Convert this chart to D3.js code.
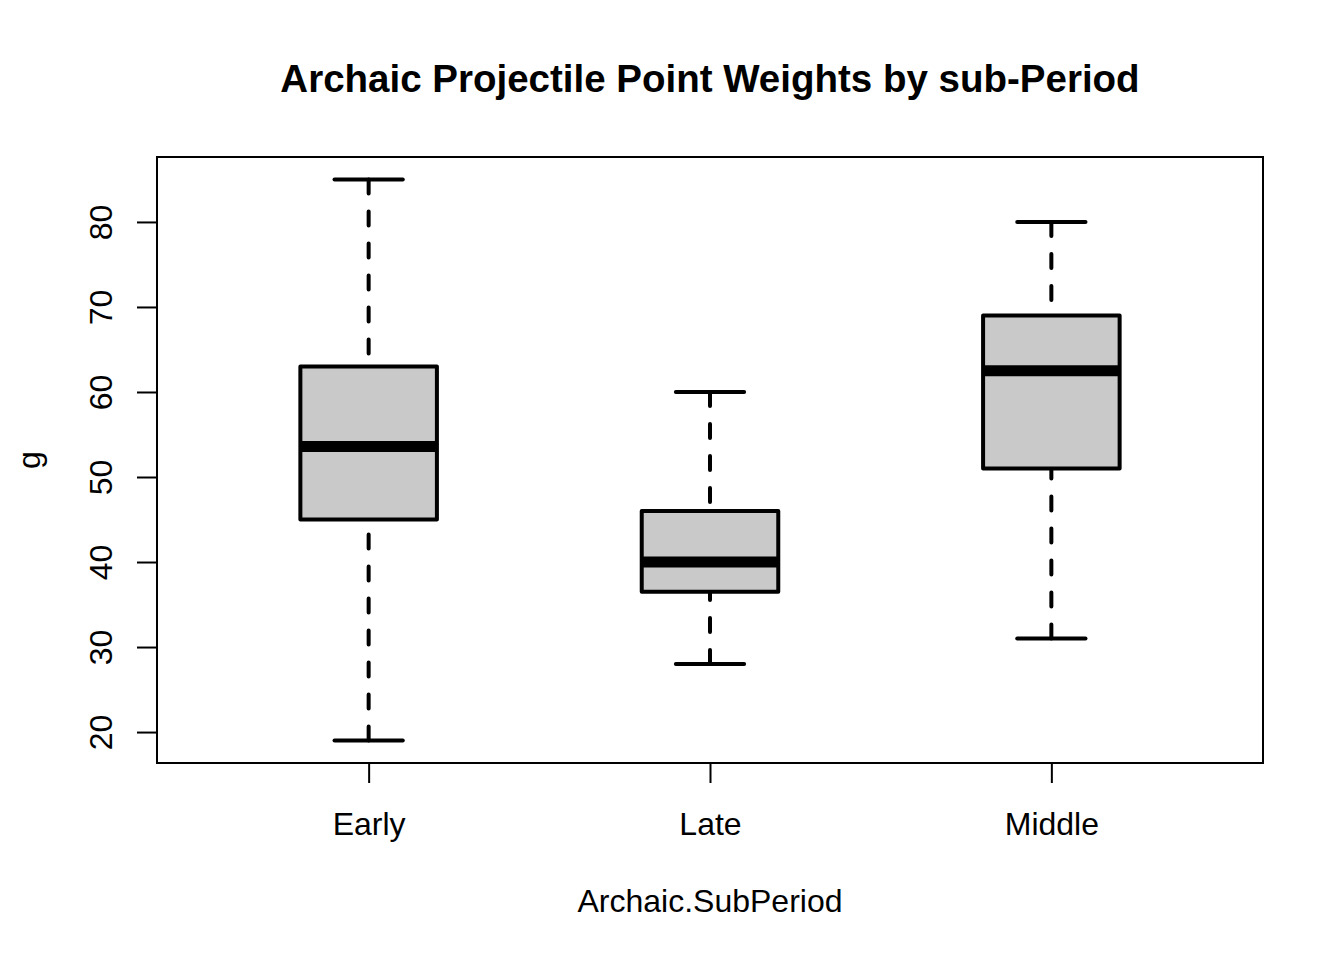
<!DOCTYPE html>
<html>
<head>
<meta charset="utf-8">
<script src="https://d3js.org/d3.v7.min.js"></script>
<style>
  body { margin: 0; background: #fff; }
  svg { font-family: "Liberation Sans", Arial, Helvetica, sans-serif; }
</style>
</head>
<body>
<svg width="1344" height="960"></svg>
<script>
// box stats
var periods = ["Early", "Late", "Middle"];
var lowWhisker = [19, 28, 31];
var lowerQuartile = [45, 36.5, 51];
var medians = [53.6, 40, 62.5];
var upperQuartile = [63, 46, 69];
var highWhisker = [85, 60, 80];
var yTicks = [20, 30, 40, 50, 60, 70, 80];

var svg = d3.select("svg"),
    plotLeft = 157, plotRight = 1263, plotTop = 157, plotBottom = 763;

var data = periods.map(function(p, i) {
  return { name: p, lo: lowWhisker[i], q1: lowerQuartile[i], med: medians[i],
           q3: upperQuartile[i], hi: highWhisker[i], pos: i + 1 };
});

// R style 4% padding on both axes
var yMin = d3.min(lowWhisker), yMax = d3.max(highWhisker), pad = (yMax - yMin) * 0.04;
var yScale = d3.scaleLinear().domain([yMin - pad, yMax + pad]).range([plotBottom, plotTop]);
var xPad = periods.length * 0.04;
var xScale = d3.scaleLinear().domain([0.5 - xPad, periods.length + 0.5 + xPad]).range([plotLeft, plotRight]);

var half = xScale(1.2) - xScale(1);
var capHalf = half / 2;

// title
svg.append("text")
  .attr("x", (plotLeft + plotRight) / 2).attr("y", 92)
  .attr("text-anchor", "middle")
  .style("font-weight", "bold").style("font-size", "38.5px")
  .text("Archaic Projectile Point Weights by sub-Period");

// frame
svg.append("rect")
  .attr("x", plotLeft).attr("y", plotTop)
  .attr("width", plotRight - plotLeft).attr("height", plotBottom - plotTop)
  .attr("fill", "none").attr("stroke", "#000").attr("stroke-width", 2);

// y axis
var y_axis = d3.axisLeft(yScale).tickValues(yTicks).tickSize(20).tickPadding(0);
var gy = svg.append("g").attr("transform", "translate(" + plotLeft + ",0)").call(y_axis);
gy.select(".domain").attr("d", "M0," + yScale(20) + "V" + yScale(80)).attr("stroke-width", 2);
gy.selectAll(".tick line").attr("stroke-width", 2);
gy.selectAll(".tick text")
  .attr("x", null).attr("dy", null)
  .attr("transform", "translate(-45,0) rotate(-90)")
  .attr("text-anchor", "middle")
  .style("font-size", "32px").style("font-family", "Liberation Sans, Arial, sans-serif");

// x axis
var x_axis = d3.axisBottom(xScale).tickValues(d3.range(1, periods.length + 1))
  .tickFormat(function(d) { return periods[d - 1]; }).tickSize(20).tickPadding(0);
var gx = svg.append("g").attr("transform", "translate(0," + plotBottom + ")").call(x_axis);
gx.select(".domain").attr("d", "M" + xScale(1) + ",0H" + xScale(periods.length)).attr("stroke-width", 2);
gx.selectAll(".tick line").attr("stroke-width", 2);
gx.selectAll(".tick text")
  .attr("y", 72).attr("dy", null)
  .style("font-size", "32px").style("font-family", "Liberation Sans, Arial, sans-serif");

// axis titles
svg.append("text")
  .attr("x", (plotLeft + plotRight) / 2).attr("y", 912)
  .attr("text-anchor", "middle").style("font-size", "32px")
  .text("Archaic.SubPeriod");
svg.append("text")
  .attr("transform", "translate(40," + (plotTop + plotBottom) / 2 + ") rotate(-90)")
  .attr("text-anchor", "middle").style("font-size", "32px")
  .text("g");

// boxes
var box = svg.selectAll(".box").data(data).enter().append("g").attr("class", "box");

box.append("line")
  .attr("x1", function(d) { return xScale(d.pos); }).attr("x2", function(d) { return xScale(d.pos); })
  .attr("y1", function(d) { return yScale(d.hi); }).attr("y2", function(d) { return yScale(d.q3); })
  .attr("stroke", "#000").attr("stroke-width", 4)
  .attr("stroke-dasharray", "14,18").attr("stroke-linecap", "round");
box.append("line")
  .attr("x1", function(d) { return xScale(d.pos); }).attr("x2", function(d) { return xScale(d.pos); })
  .attr("y1", function(d) { return yScale(d.lo); }).attr("y2", function(d) { return yScale(d.q1); })
  .attr("stroke", "#000").attr("stroke-width", 4)
  .attr("stroke-dasharray", "14,18").attr("stroke-linecap", "round");

["hi", "lo"].forEach(function(k) {
  box.append("line")
    .attr("x1", function(d) { return xScale(d.pos) - capHalf; })
    .attr("x2", function(d) { return xScale(d.pos) + capHalf; })
    .attr("y1", function(d) { return yScale(d[k]); }).attr("y2", function(d) { return yScale(d[k]); })
    .attr("stroke", "#000").attr("stroke-width", 4).attr("stroke-linecap", "round");
});

box.append("rect")
  .attr("x", function(d) { return xScale(d.pos) - half; })
  .attr("y", function(d) { return yScale(d.q3); })
  .attr("width", half * 2)
  .attr("height", function(d) { return yScale(d.q1) - yScale(d.q3); })
  .attr("fill", "#c9c9c9").attr("stroke", "#000").attr("stroke-width", 4)
  .attr("stroke-linejoin", "round");

box.append("line")
  .attr("x1", function(d) { return xScale(d.pos) - half; })
  .attr("x2", function(d) { return xScale(d.pos) + half; })
  .attr("y1", function(d) { return yScale(d.med); }).attr("y2", function(d) { return yScale(d.med); })
  .attr("stroke", "#000").attr("stroke-width", 11);
</script>
</body>
</html>
